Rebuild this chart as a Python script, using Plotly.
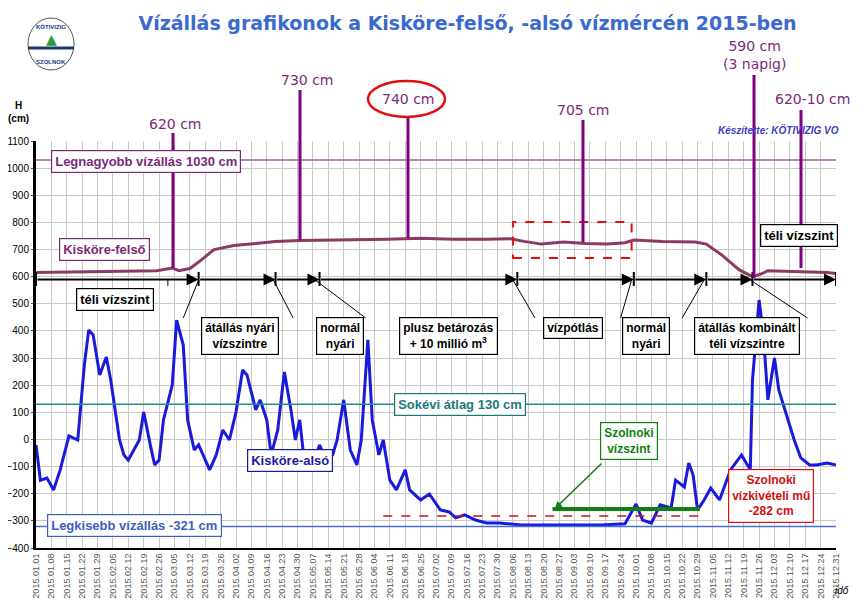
import datetime as dt
import plotly.graph_objects as go

START = dt.date(2015, 1, 1)

# Kisköre-felső (day of year index, cm)
felso_day = [0, 20, 40, 55, 62, 65, 70, 75, 81, 90, 100, 109, 120, 140, 160, 175, 190, 205, 216,
             222, 230, 240, 250, 260, 268, 272, 285, 300, 305, 312, 320, 326, 330, 333, 345, 360, 364]
felso_cm = [615, 618, 620, 622, 632, 622, 630, 660, 700, 715, 722, 730, 733, 735, 738, 742, 738, 738, 740,
            730, 720, 728, 722, 720, 725, 735, 730, 728, 720, 680, 625, 600, 610, 622, 620, 615, 612]

# Kisköre-alsó
also_day = [0, 2, 5, 8, 11, 15, 19, 22, 24, 26, 29, 32, 34, 38, 40, 42, 47, 49, 52, 54, 56, 58, 62, 64,
            67, 69, 72, 74, 79, 82, 85, 88, 91, 94, 96, 100, 102, 105, 107, 110, 113, 116, 118, 120, 122,
            126, 129, 132, 135, 137, 140, 143, 146, 148, 151, 153, 156, 158, 161, 164, 168, 170, 175, 179,
            184, 188, 191, 195, 200, 205, 211, 221, 239, 257, 268, 273, 276, 280, 284, 289, 291, 295, 297,
            299, 301, 304, 307, 311, 316, 321, 325, 326, 329, 331, 333, 336, 338, 342, 345, 348, 352, 355,
            360, 364]
also_cm = [-20, -150, -142, -186, -112, 13, -2, 275, 404, 385, 238, 304, 219, -2, -57, -76, -2, 101, -20,
           -94, -76, 72, 201, 440, 348, 72, -39, -20, -112, -57, 35, -2, 101, 256, 238, 109, 146, 72, -57,
           35, 249, 109, -2, 72, -76, -94, -20, -76, -57, -2, 146, -39, -94, -2, 367, 72, -57, -2, -150,
           -186, -112, -186, -223, -201, -260, -267, -289, -278, -297, -308, -308, -315, -315, -315, -311,
           -238, -297, -308, -241, -252, -150, -175, -87, -131, -260, -223, -179, -223, -112, -57, -112, 219,
           514, 385, 146, 300, 182, 72, -2, -68, -94, -94, -87, -94]

MAX_CM, MEAN_CM, MIN_CM, SZOLNOK_CM, SZ_VIZSZINT = 1030, 130, -321, -282, -256
ARROW_CM = 590
phase_day = [0, 74, 109, 129, 219, 272, 305, 326, 364]

PURPLE = "#7a2a7a"
FELSO_C = "#8b3a62"
BLUE = "#1a1adc"


def d(day):
    return START + dt.timedelta(days=day)


def px(x):  # pixel x -> date
    return d((x - 37) / 2.197)


def py(y):  # pixel y -> cm
    return (439.5 - y) * 3.686


def xp(x):  # pixel x -> paper
    return (x - 36) / 800


def yp(y):  # pixel y -> paper
    return (548 - y) / 407


fig = go.Figure()
fig.add_trace(go.Scatter(x=[d(v) for v in felso_day], y=felso_cm, mode="lines",
                         line=dict(color=FELSO_C, width=3), hoverinfo="skip"))
fig.add_trace(go.Scatter(x=[d(v) for v in also_day], y=also_cm, mode="lines",
                         line=dict(color=BLUE, width=3), hoverinfo="skip"))

shapes = []
for y, c, w in [(MAX_CM, "#a060a0", 1.5), (MEAN_CM, "#2a8a8a", 1.5), (MIN_CM, "#4a70d0", 1.5)]:
    shapes.append(dict(type="line", xref="paper", x0=0, x1=1, y0=y, y1=y, line=dict(color=c, width=w)))
shapes.append(dict(type="line", x0=px(385), x1=px(705), y0=SZOLNOK_CM, y1=SZOLNOK_CM,
                   line=dict(color="#d01010", width=1.5, dash="dash")))
shapes.append(dict(type="line", x0=px(555), x1=px(702), y0=SZ_VIZSZINT, y1=SZ_VIZSZINT,
                   line=dict(color="#108010", width=4)))
shapes.append(dict(type="rect", x0=px(515), x1=px(633), y0=py(258), y1=py(222),
                   line=dict(color="#e01010", width=2, dash="dash")))
shapes.append(dict(type="circle", xref="paper", yref="paper", x0=xp(368), x1=xp(445),
                   y0=yp(117), y1=yp(81), line=dict(color="#e01010", width=2.5)))
# phase tick marks
for p in phase_day:
    shapes.append(dict(type="line", x0=d(p), x1=d(p), y0=py(272), y1=py(286), line=dict(color="black", width=2)))
# callout lines from phase marks to boxes
for x0, x1, y1 in [(200, 185, 318), (275, 295, 318), (318, 368, 318), (515, 537, 318),
                   (633, 622, 318), (706, 685, 318), (752, 810, 318), (170, 170, 286)]:
    shapes.append(dict(type="line", x0=px(x0), x1=px(x1), y0=py(280), y1=py(y1),
                       line=dict(color="black", width=1)))
# purple pointer lines
for x, y0, y1 in [(173, 133, 268), (300, 90, 240), (408, 117, 238), (583, 120, 242), (754, 75, 278), (801, 110, 268)]:
    shapes.append(dict(type="line", xref="paper", yref="paper", x0=xp(x), x1=xp(x), y0=yp(y0), y1=yp(y1),
                       line=dict(color="#800080", width=3)))
# logo
shapes.append(dict(type="circle", xref="paper", yref="paper", x0=xp(28), x1=xp(74),
                   y0=yp(70), y1=yp(18), line=dict(color="#555", width=1)))
shapes.append(dict(type="line", xref="paper", yref="paper", x0=xp(28), x1=xp(74),
                   y0=yp(48), y1=yp(48), line=dict(color="#1a3a6a", width=3)))

ann = []
for a, b in zip(phase_day[:-1], phase_day[1:]):
    ann.append(dict(x=d(b), y=ARROW_CM, ax=d(a), ay=ARROW_CM, axref="x", ayref="y", xref="x", yref="y",
                    showarrow=True, arrowhead=2, arrowsize=1.2, arrowwidth=2, arrowcolor="black", text=""))


def box(x, y, text, color, border=None, size=12):
    ann.append(dict(xref="paper", yref="paper", x=xp(x), y=yp(y), xanchor="center", yanchor="middle",
                    text=text, showarrow=False, bgcolor="white",
                    bordercolor=border or color, borderwidth=1.2, borderpad=3,
                    font=dict(family="Liberation Sans", size=size, color=color)))


def label(x, y, text, color, size=14, family="DejaVu Sans"):
    ann.append(dict(xref="paper", yref="paper", x=xp(x), y=yp(y), xanchor="center", yanchor="middle",
                    text=text, showarrow=False, font=dict(family=family, size=size, color=color)))


box(146, 161, "<b>Legnagyobb vízállás 1030 cm</b>", PURPLE, size=13)
box(104, 249, "<b>Kisköre-felső</b>", PURPLE, size=13)
box(115, 299, "<b>téli vízszint</b>", "black", size=13)
box(240, 336, "<b>átállás nyári<br>vízszintre</b>", "black", size=12)
box(340, 336, "<b>normál<br>nyári</b>", "black", size=12)
box(448, 336, "<b>plusz betározás<br>+ 10 millió m<sup>3</sup></b>", "black", size=12)
box(573, 328, "<b>vízpótlás</b>", "black", size=12)
box(646, 336, "<b>normál<br>nyári</b>", "black", size=12)
box(747, 336, "<b>átállás kombinált<br>téli vízszintre</b>", "black", size=12)
box(799, 235, "<b>téli vízszint</b>", "black", size=13)
box(460, 404, "<b>Sokévi átlag 130 cm</b>", "#1a7a7a", size=13)
box(290, 460, "<b>Kisköre-alsó</b>", "#1a1aa0", size=13)
box(134, 525, "<b>Legkisebb vízállás -321 cm</b>", "#3a60c0", size=13)
box(629, 441, "<b>Szolnoki<br>vízszint</b>", "#108010", size=12)
box(771, 496, "<b>Szolnoki<br>vízkivételi mű<br>-282 cm</b>", "#d01010", border="#e01010", size=12)
ann.append(dict(x=px(556), y=SZ_VIZSZINT, ax=px(605), ay=py(462), axref="x", ayref="y", xref="x", yref="y",
                showarrow=True, arrowhead=2, arrowwidth=1.5, arrowcolor="#108010", text=""))

label(175, 124, "620 cm", PURPLE)
label(307, 80, "730 cm", PURPLE)
label(408, 99, "740 cm", PURPLE)
label(583, 110, "705 cm", PURPLE)
label(754, 55, "590 cm<br>(3 napig)", PURPLE)
label(812, 99, "620-10 cm", PURPLE)
label(778, 130, "<b><i>Készítette: KÖTIVIZIG VO</i></b>", "#4040c0", size=10, family="Liberation Sans")
label(842, 590, "<i>idő</i>", "black", size=10, family="Liberation Sans")
label(18, 112, "<b>H<br>(cm)</b>", "black", size=10, family="Liberation Sans")
label(51, 27, "<b>KÖTIVIZIG</b>", "#1a3a8a", size=6, family="Liberation Sans")
label(51, 39, "▲", "#2a9a3a", size=14)
label(51, 62, "<b>SZOLNOK</b>", "#1a3a8a", size=6, family="Liberation Sans")

fig.update_layout(
    width=851, height=601, margin=dict(l=28, r=23, t=133, b=61),
    paper_bgcolor="white", plot_bgcolor="white", showlegend=False,
    title=dict(text="<b>Vízállás grafikonok a Kisköre-felső, -alsó vízmércén 2015-ben</b>",
               x=0.54, y=0.985, xanchor="center",
               font=dict(family="DejaVu Sans", size=19, color="#3a6ad0")),
    xaxis=dict(range=[d(0), d(364)], tick0=d(0), dtick=7 * 86400000, tickformat="%Y.%m.%d",
               tickangle=-90, tickfont=dict(family="Liberation Sans", size=9, color="#555"), automargin=False,
               showgrid=True, gridcolor="#c8c8c8", gridwidth=1, showline=True, linecolor="black", linewidth=2),
    yaxis=dict(range=[-400, 1100], dtick=100, tickfont=dict(family="Liberation Sans", size=10, color="black"),
               showgrid=True, gridcolor="#c8c8c8", showline=True, linecolor="black", linewidth=3,
               ticks="outside", ticklen=2, zeroline=False, automargin=False),
    shapes=shapes, annotations=ann,
)
fig.write_html("out.html")
